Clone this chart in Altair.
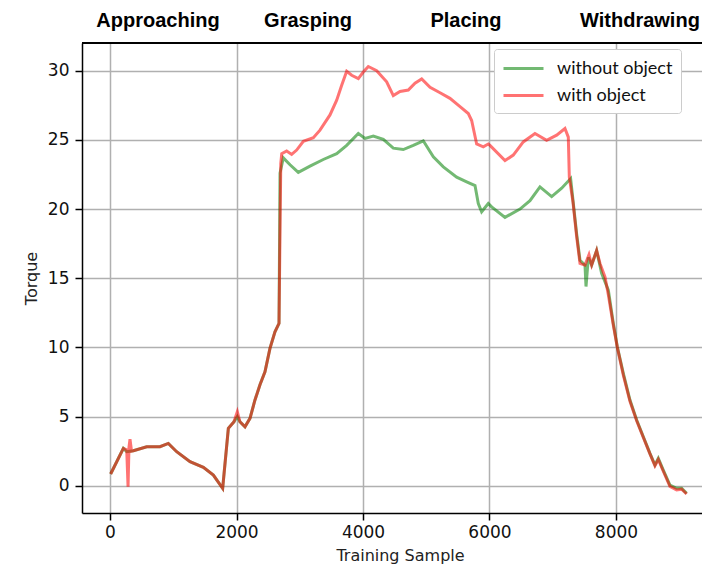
import altair as alt
import pandas as pd

series_names = ["without object", "with object"]
series_colors = ["#008000", "#ff0000"]

# without object (green)
x_without = [10, 211, 264, 369, 580, 790, 922, 1054, 1265, 1476, 1634, 1781, 1871, 1960, 2013, 2055,
             2134, 2213, 2292, 2371, 2450, 2529, 2608, 2672, 2688, 2740, 2846, 2977, 3162, 3372, 3584,
             3742, 3926, 4032, 4163, 4321, 4479, 4637, 4795, 4953, 5112, 5270, 5481, 5639, 5771, 5823,
             5876, 5981, 6034, 6245, 6482, 6640, 6798, 6983, 7141, 7283, 7378, 7431, 7510, 7526, 7563,
             7615, 7694, 7773, 7879, 7958, 8021, 8116, 8221, 8327, 8432, 8537, 8616, 8669, 8748, 8853,
             8959, 9038, 9117]
y_without = [0.85, 2.7, 2.46, 2.53, 2.82, 2.82, 3.06, 2.46, 1.74, 1.33, 0.77, -0.19, 4.15, 4.62, 5.0, 4.62,
             4.26, 4.87, 6.2, 7.3, 8.24, 9.93, 11.13, 11.73, 22.6, 23.7, 23.2, 22.65, 23.1, 23.58, 24.0,
             24.6, 25.46, 25.1, 25.27, 25.03, 24.4, 24.3, 24.6, 24.93, 23.77, 23.05, 22.3, 21.97, 21.7, 20.4,
             19.8, 20.4, 20.16, 19.4, 20.0, 20.6, 21.6, 20.9, 21.5, 22.2, 18.2, 16.3, 15.95, 14.4, 16.5,
             15.95, 17.0, 15.35, 14.14, 11.73, 10.04, 8.12, 6.19, 4.75, 3.54, 2.34, 1.5, 1.98, 1.13, 0.05,
             -0.19, -0.19, -0.55]

# with object (red)
x_with = [10, 211, 264, 285, 300, 316, 340, 369, 580, 790, 922, 1054, 1265, 1476, 1634, 1781, 1871, 1960,
          2013, 2055, 2134, 2213, 2292, 2371, 2450, 2529, 2608, 2672, 2700, 2715, 2793, 2872, 2951, 3057,
          3215, 3320, 3478, 3584, 3663, 3742, 3821, 3926, 4005, 4084, 4216, 4374, 4479, 4585, 4716, 4822,
          4928, 5060, 5218, 5375, 5534, 5665, 5718, 5797, 5902, 5981, 6008, 6245, 6376, 6534, 6719, 6903,
          7062, 7193, 7246, 7262, 7320, 7378, 7431, 7510, 7573, 7615, 7694, 7747, 7826, 7879, 7958, 8021,
          8116, 8221, 8327, 8432, 8537, 8616, 8669, 8748, 8853, 8959, 9038, 9117]
y_with = [0.85, 2.7, 2.6, -0.07, 2.8, 3.37, 2.5, 2.53, 2.82, 2.82, 3.06, 2.46, 1.74, 1.33, 0.77, -0.19, 4.15, 4.62,
          5.35, 4.62, 4.26, 4.87, 6.2, 7.3, 8.24, 9.93, 11.13, 11.73, 23.3, 24.0, 24.2, 23.95, 24.26, 24.9,
          25.15, 25.7, 26.8, 27.87, 28.95, 29.96, 29.67, 29.43, 29.9, 30.3, 30.0, 29.2, 28.2, 28.5, 28.6, 29.1,
          29.4, 28.8, 28.4, 28.0, 27.4, 26.9, 26.4, 24.7, 24.5, 24.7, 24.6, 23.5, 23.9, 24.85, 25.46, 24.97,
          25.34, 25.82, 25.2, 22.3, 20.5, 18.0, 16.07, 15.95, 16.7, 15.95, 17.0, 16.07, 15.1, 13.8, 11.6, 10.0,
          8.0, 6.1, 4.7, 3.5, 2.3, 1.45, 1.9, 1.05, -0.05, -0.3, -0.25, -0.6]

phase_labels = ["Approaching", "Grasping", "Placing", "Withdrawing"]
phase_centers = [759, 3130, 5628, 8379]

x_ticks = [0, 2000, 4000, 6000, 8000]
y_ticks = [0, 5, 10, 15, 20, 25, 30]

assert len(x_without) == len(y_without)
assert len(x_with) == len(y_with)

df = pd.DataFrame({
    "sample": x_without + x_with,
    "torque": y_without + y_with,
    "series": [series_names[0]] * len(x_without) + [series_names[1]] * len(x_with),
    "idx": list(range(len(x_without))) + list(range(len(x_with))),
})
phases = pd.DataFrame({"label": phase_labels, "pos": phase_centers})

xscale = alt.Scale(domain=[-443, 9360], nice=False, zero=False)
yscale = alt.Scale(domain=[-1.97, 32.0], nice=False, zero=False)

lines = alt.Chart(df).mark_line(strokeWidth=3, opacity=0.55, clip=True).encode(
    x=alt.X("sample:Q", scale=xscale,
            axis=alt.Axis(values=x_ticks, title="Training Sample", titleX=318, titleAlign="center",
                          titlePadding=7, labelPadding=4, format="d")),
    y=alt.Y("torque:Q", scale=yscale,
            axis=alt.Axis(values=y_ticks, title="Torque", titlePadding=8, labelPadding=6, format="d")),
    color=alt.Color("series:N", scale=alt.Scale(domain=series_names, range=series_colors),
                    legend=alt.Legend(orient="none", legendX=412, legendY=6, title=None,
                                      symbolType="M-1,0H3", symbolSize=400, symbolStrokeWidth=3,
                                      symbolOpacity=0.55, labelOffset=32, padding=8, rowPadding=6,
                                      strokeColor="#cccccc", fillColor="white", cornerRadius=3,
                                      labelFont="Lato", labelFontSize=18, labelColor="#111111")),
    order="idx:Q",
)

top_spine = alt.Chart(phases).mark_rule(color="black", strokeWidth=1.5).encode(y=alt.value(0))

texts = alt.Chart(phases).mark_text(font="Liberation Sans", fontWeight="bold", fontSize=20,
                                    baseline="alphabetic", align="center", color="black").encode(
    x=alt.X("pos:Q", scale=xscale),
    y=alt.value(-16),
    text="label:N",
)

chart = alt.layer(lines, texts, top_spine).properties(
    width=620, height=470,
    autosize=alt.AutoSizeParams(type="none"),
    padding={"left": 74, "top": 35, "right": 0, "bottom": 56},
).configure_view(stroke=None).configure_axis(
    domainColor="black", domainWidth=1.5, tickColor="black", tickWidth=1.5, tickSize=7,
    gridColor="#b0b0b0", gridWidth=1.5,
    labelFont="DejaVu Sans", labelFontSize=17, labelColor="#111111",
    titleFont="DejaVu Sans", titleFontSize=16, titleFontWeight="normal", titleColor="#222222",
)

chart.save("out.html", embed_options={"renderer": "svg", "actions": False})
